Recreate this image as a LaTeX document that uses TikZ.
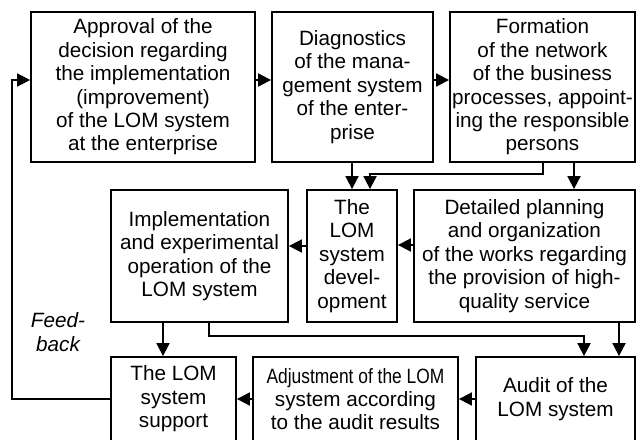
\documentclass[tikz,border=0pt]{standalone}
\usepackage{fontspec}
\setmainfont{Liberation Sans}
\usepackage{graphicx}
\usetikzlibrary{arrows.meta}
\tikzset{
 box/.style={draw, line width=1.8pt, rectangle, inner sep=0pt, align=center, font=\fontsize{20.7}{23.4}\selectfont},
 arr/.style={line width=1.8pt, -{Triangle[length=13pt,width=13pt]}},
 lbl/.style={inner sep=0pt, align=center, font=\fontsize{20.7}{23.4}\selectfont\itshape}
}
\begin{document}
\begin{tikzpicture}[x=1pt,y=-1pt]
\useasboundingbox (0,0) rectangle (637,439);
\clip (0,0) rectangle (637,439);
\fill[white] (0,0) rectangle (637,439);
% row 1
\node[box, minimum width=224pt, minimum height=150pt] (A) at (143,87)
  {Approval of the\\decision regarding\\the implementation\\(improvement)\\of the LOM system\\at the enterprise};
\node[box, minimum width=161pt, minimum height=150pt] (D) at (352.5,87)
  {Diagnostics\\of the mana-\\gement system\\of the enter-\\prise};
\node[box, minimum width=185pt, minimum height=150pt] (F) at (542.5,87)
  {Formation\\of the network\\of the business\\processes, appoint-\\ing the responsible\\persons};
% row 2
\node[box, minimum width=177pt, minimum height=132pt] (I) at (199.5,256)
  {Implementation\\and experimental\\operation of the\\LOM system};
\node[box, minimum width=90pt, minimum height=132pt] (L) at (352,256)
  {The\\LOM\\system\\devel-\\opment};
\node[box, minimum width=221pt, minimum height=132pt] (P) at (524.5,256)
  {Detailed planning\\and organization\\of the works regarding\\the provision of high-\\quality service};
% row 3
\node[box, minimum width=125pt, minimum height=84pt] (S) at (173.5,399)
  {The LOM\\system\\support};
\node[box, minimum width=205pt, minimum height=84pt] (J) at (355.5,399)
  {\scalebox{0.84}[1]{Adjustment of the LOM}\\system according\\to the audit results};
\node[box, minimum width=159pt, minimum height=84pt] (U) at (555.5,399)
  {Audit of the\\LOM system};
\node[lbl] (fb) at (58,332) {Feed-\\back};
% connectors
\draw[arr] ([yshift=7pt]A.east) -- ([yshift=7pt]D.west);
\draw[arr] ([yshift=7pt]D.east) -- ([yshift=7pt]F.west);
\draw[arr] (D.south -| L.north) -- (L.north);
\draw[arr] ([xshift=0.5pt]F.south) -- ++(0,11) -| ([xshift=18pt]L.north);
\draw[arr] ([xshift=31.5pt]F.south) -- ([xshift=31.5pt]F.south |- P.north);
\draw[arr] ([yshift=11pt]P.west) -- ([yshift=11pt]L.east);
\draw[arr] ([yshift=10pt]L.west) -- ([yshift=10pt]I.east);
\draw[arr] ([xshift=-36.5pt]I.south) -- ([xshift=-36.5pt]I.south |- S.north);
\draw[arr] ([xshift=9.5pt]I.south) -- ++(0,13) -| ([xshift=28.5pt]U.north);
\draw[arr] ([xshift=94.5pt]P.south) -- ([xshift=94.5pt]P.south |- U.north);
\draw[arr] (U.west) -- (J.east);
\draw[arr] (J.west) -- (S.east);
\draw[arr] (S.west) -- ++(-98,0) |- ([yshift=7pt]A.west);
\end{tikzpicture}
\end{document}
